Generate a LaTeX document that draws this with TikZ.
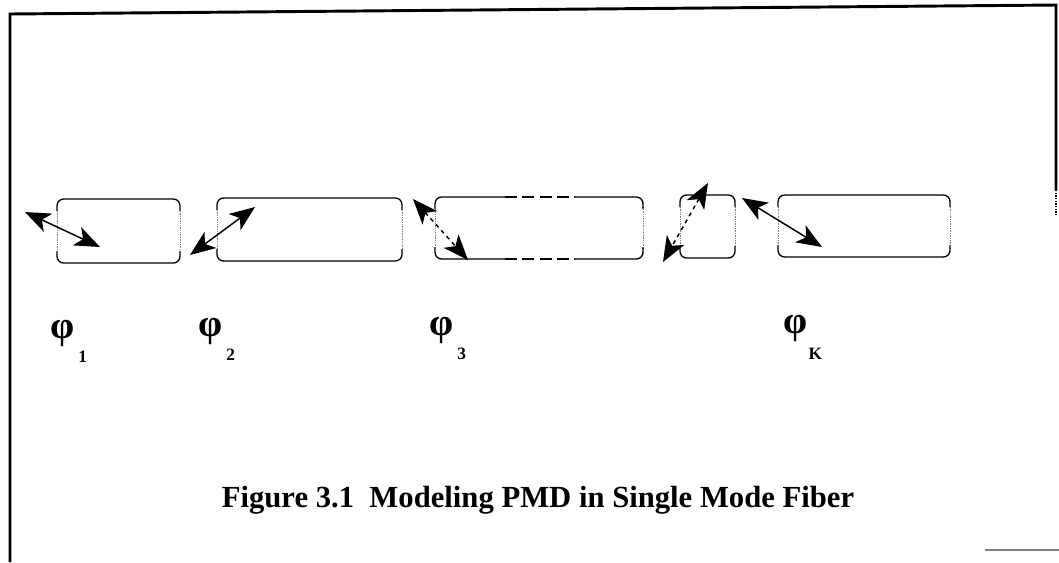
\documentclass[tikz,border=0pt]{standalone}
\usepackage{fontspec}
\setmainfont{Liberation Serif}
\usetikzlibrary{arrows.meta, positioning}

\begin{document}
\begin{tikzpicture}[
    x=0.75pt, y=-0.75pt,
    frame/.style={line width=2.2pt},
    edge/.style={line width=1pt, rounded corners=5pt},
    fend/.style={line width=0.3pt, densely dotted, gray},
    pol/.style={{Stealth[length=19pt, width=15pt, inset=5pt]}-{Stealth[length=19pt, width=15pt, inset=5pt]}, line width=1.1pt},
    phi/.style={font=\fontsize{29}{34}\selectfont\bfseries, inner sep=0pt},
    sub/.style={font=\fontsize{13}{15}\selectfont\bfseries, inner sep=0pt},
    caption/.style={font=\fontsize{23}{28}\selectfont\bfseries, inner sep=0pt}
]
    \useasboundingbox (0,0) rectangle (1059,562);

    % frame
    \draw[frame] (10,562) -- (10,14) -- (1056,5) -- (1056,190);
    \draw[line width=1pt, densely dotted] (1056,190) -- (1056,215);
    \draw[line width=1.5pt, gray] (985,550) -- (1059,550);

    % fiber sections
    \foreach \xa/\xb/\ya/\yb in {57/180/199/263, 217/402/198/261, 680/735/195/258, 778/950/195/257} {
        \draw[edge] (\xa,\ya+12) -- (\xa,\ya) -- (\xb,\ya) -- (\xb,\ya+12);
        \draw[edge] (\xa,\yb-12) -- (\xa,\yb) -- (\xb,\yb) -- (\xb,\yb-12);
        \draw[fend] (\xa,\ya+12) -- (\xa,\yb-12);
        \draw[fend] (\xb,\ya+12) -- (\xb,\yb-12);
    }
    % third section, partly dashed
    \draw[edge] (435,209) -- (435,197) -- (505,197);
    \draw[edge, dash pattern=on 9pt off 4pt] (505,197) -- (575,197);
    \draw[edge] (575,197) -- (643,197) -- (643,209);
    \draw[edge] (435,247) -- (435,259) -- (505,259);
    \draw[edge, dash pattern=on 9pt off 4pt] (505,259) -- (575,259);
    \draw[edge] (575,259) -- (643,259) -- (643,247);
    \draw[fend] (435,209) -- (435,247);
    \draw[fend] (643,209) -- (643,247);

    % polarization axes
    \coordinate (a1s) at (25,212);  \coordinate (a1e) at (100,247);
    \coordinate (a2s) at (190,255); \coordinate (a2e) at (255,207);
    \coordinate (a3s) at (413,199); \coordinate (a3e) at (468,260);
    \coordinate (a4s) at (708,183); \coordinate (a4e) at (663,262);
    \coordinate (a5s) at (742,198); \coordinate (a5e) at (822,247);
    \draw[pol] (a1s) -- (a1e);
    \draw[pol] (a2s) -- (a2e);
    \draw[pol, dashed] (a3s) -- (a3e);
    \draw[pol, dashed] (a4s) -- (a4e);
    \draw[pol] (a5s) -- (a5e);

    % angles
    \node[phi] (p1) at (63,333) {φ};
    \node[sub, below right=3pt and 2pt of p1] (s1) {1};
    \node[phi] (p2) at (211,331) {φ};
    \node[sub, below right=3pt and 2pt of p2] (s2) {2};
    \node[phi] (p3) at (442,330) {φ};
    \node[sub, below right=3pt and 2pt of p3] (s3) {3};
    \node[phi] (pk) at (796,328) {φ};
    \node[sub, below right=5pt and 0pt of pk] (sk) {K};

    \node[caption, anchor=base] (cap) at (538,507) {Figure 3.1\ \ Modeling PMD in Single Mode Fiber};
\end{tikzpicture}
\end{document}
